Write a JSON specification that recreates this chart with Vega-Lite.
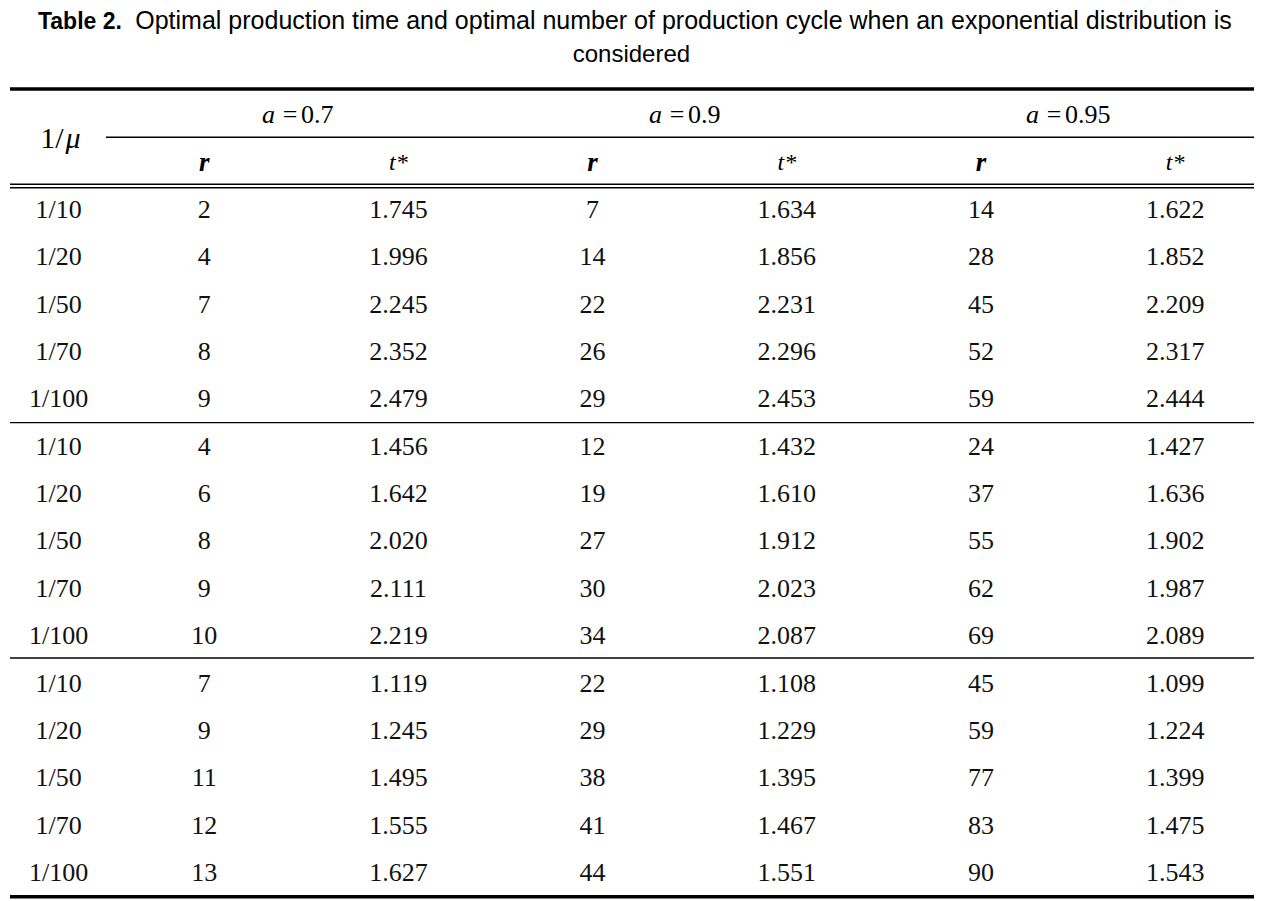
{
  "$schema": "https://vega.github.io/schema/vega-lite/v6.json",
  "width": 1274,
  "height": 901,
  "autosize": {"type": "fit", "contains": "padding"},
  "padding": 0,
  "background": "white",
  "config": {"view": {"stroke": null}},
  "datasets": {
    "caption": [
      {"row": -2.821, "col": 0.144, "text": "Table 2.", "part": "label"},
      {"row": -2.821, "col": 3.468, "text": "Optimal production time and optimal number of production cycle when an exponential distribution is", "part": "body"},
      {"row": -2.124, "col": 3.2, "text": "considered", "part": "body2"}
    ],
    "lines": [
      {"at": -1.555, "from": 0, "to": 6.406, "weight": "heavy"},
      {"at": -0.534, "from": 0.494, "to": 6.406, "weight": "light"},
      {"at": 0.458, "from": 0, "to": 6.406, "weight": "light"},
      {"at": 0.53, "from": 0, "to": 6.406, "weight": "light"},
      {"at": 5.49, "from": 0, "to": 6.406, "weight": "light"},
      {"at": 10.46, "from": 0, "to": 6.406, "weight": "light"},
      {"at": 15.5, "from": 0, "to": 6.406, "weight": "heavy"}
    ],
    "mu": [{"row": -0.49, "col": 0.25}],
    "groups": [
      {"row": -1, "col": 1.442, "val": "0.7"},
      {"row": -1, "col": 3.435, "val": "0.9"},
      {"row": -1, "col": 5.376, "val": "0.95"}
    ],
    "sub": [
      {"row": 0, "col": 1, "lab": "r"},
      {"row": 0, "col": 2, "lab": "t*"},
      {"row": 0, "col": 3, "lab": "r"},
      {"row": 0, "col": 4, "lab": "t*"},
      {"row": 0, "col": 5, "lab": "r"},
      {"row": 0, "col": 6, "lab": "t*"}
    ],
    "cells": [
      {"row": 1, "col": 0.25, "text": "1/10"}, {"row": 1, "col": 1, "text": "2"}, {"row": 1, "col": 2, "text": "1.745"}, {"row": 1, "col": 3, "text": "7"}, {"row": 1, "col": 4, "text": "1.634"}, {"row": 1, "col": 5, "text": "14"}, {"row": 1, "col": 6, "text": "1.622"},
      {"row": 2, "col": 0.25, "text": "1/20"}, {"row": 2, "col": 1, "text": "4"}, {"row": 2, "col": 2, "text": "1.996"}, {"row": 2, "col": 3, "text": "14"}, {"row": 2, "col": 4, "text": "1.856"}, {"row": 2, "col": 5, "text": "28"}, {"row": 2, "col": 6, "text": "1.852"},
      {"row": 3, "col": 0.25, "text": "1/50"}, {"row": 3, "col": 1, "text": "7"}, {"row": 3, "col": 2, "text": "2.245"}, {"row": 3, "col": 3, "text": "22"}, {"row": 3, "col": 4, "text": "2.231"}, {"row": 3, "col": 5, "text": "45"}, {"row": 3, "col": 6, "text": "2.209"},
      {"row": 4, "col": 0.25, "text": "1/70"}, {"row": 4, "col": 1, "text": "8"}, {"row": 4, "col": 2, "text": "2.352"}, {"row": 4, "col": 3, "text": "26"}, {"row": 4, "col": 4, "text": "2.296"}, {"row": 4, "col": 5, "text": "52"}, {"row": 4, "col": 6, "text": "2.317"},
      {"row": 5, "col": 0.25, "text": "1/100"}, {"row": 5, "col": 1, "text": "9"}, {"row": 5, "col": 2, "text": "2.479"}, {"row": 5, "col": 3, "text": "29"}, {"row": 5, "col": 4, "text": "2.453"}, {"row": 5, "col": 5, "text": "59"}, {"row": 5, "col": 6, "text": "2.444"},
      {"row": 6, "col": 0.25, "text": "1/10"}, {"row": 6, "col": 1, "text": "4"}, {"row": 6, "col": 2, "text": "1.456"}, {"row": 6, "col": 3, "text": "12"}, {"row": 6, "col": 4, "text": "1.432"}, {"row": 6, "col": 5, "text": "24"}, {"row": 6, "col": 6, "text": "1.427"},
      {"row": 7, "col": 0.25, "text": "1/20"}, {"row": 7, "col": 1, "text": "6"}, {"row": 7, "col": 2, "text": "1.642"}, {"row": 7, "col": 3, "text": "19"}, {"row": 7, "col": 4, "text": "1.610"}, {"row": 7, "col": 5, "text": "37"}, {"row": 7, "col": 6, "text": "1.636"},
      {"row": 8, "col": 0.25, "text": "1/50"}, {"row": 8, "col": 1, "text": "8"}, {"row": 8, "col": 2, "text": "2.020"}, {"row": 8, "col": 3, "text": "27"}, {"row": 8, "col": 4, "text": "1.912"}, {"row": 8, "col": 5, "text": "55"}, {"row": 8, "col": 6, "text": "1.902"},
      {"row": 9, "col": 0.25, "text": "1/70"}, {"row": 9, "col": 1, "text": "9"}, {"row": 9, "col": 2, "text": "2.111"}, {"row": 9, "col": 3, "text": "30"}, {"row": 9, "col": 4, "text": "2.023"}, {"row": 9, "col": 5, "text": "62"}, {"row": 9, "col": 6, "text": "1.987"},
      {"row": 10, "col": 0.25, "text": "1/100"}, {"row": 10, "col": 1, "text": "10"}, {"row": 10, "col": 2, "text": "2.219"}, {"row": 10, "col": 3, "text": "34"}, {"row": 10, "col": 4, "text": "2.087"}, {"row": 10, "col": 5, "text": "69"}, {"row": 10, "col": 6, "text": "2.089"},
      {"row": 11, "col": 0.25, "text": "1/10"}, {"row": 11, "col": 1, "text": "7"}, {"row": 11, "col": 2, "text": "1.119"}, {"row": 11, "col": 3, "text": "22"}, {"row": 11, "col": 4, "text": "1.108"}, {"row": 11, "col": 5, "text": "45"}, {"row": 11, "col": 6, "text": "1.099"},
      {"row": 12, "col": 0.25, "text": "1/20"}, {"row": 12, "col": 1, "text": "9"}, {"row": 12, "col": 2, "text": "1.245"}, {"row": 12, "col": 3, "text": "29"}, {"row": 12, "col": 4, "text": "1.229"}, {"row": 12, "col": 5, "text": "59"}, {"row": 12, "col": 6, "text": "1.224"},
      {"row": 13, "col": 0.25, "text": "1/50"}, {"row": 13, "col": 1, "text": "11"}, {"row": 13, "col": 2, "text": "1.495"}, {"row": 13, "col": 3, "text": "38"}, {"row": 13, "col": 4, "text": "1.395"}, {"row": 13, "col": 5, "text": "77"}, {"row": 13, "col": 6, "text": "1.399"},
      {"row": 14, "col": 0.25, "text": "1/70"}, {"row": 14, "col": 1, "text": "12"}, {"row": 14, "col": 2, "text": "1.555"}, {"row": 14, "col": 3, "text": "41"}, {"row": 14, "col": 4, "text": "1.467"}, {"row": 14, "col": 5, "text": "83"}, {"row": 14, "col": 6, "text": "1.475"},
      {"row": 15, "col": 0.25, "text": "1/100"}, {"row": 15, "col": 1, "text": "13"}, {"row": 15, "col": 2, "text": "1.627"}, {"row": 15, "col": 3, "text": "44"}, {"row": 15, "col": 4, "text": "1.551"}, {"row": 15, "col": 5, "text": "90"}, {"row": 15, "col": 6, "text": "1.543"}
    ]
  },
  "layer": [
    {
      "data": {"name": "lines"},
      "mark": {"type": "rule", "color": "#000000"},
      "encoding": {
        "x": {"field": "from", "type": "quantitative", "scale": {"domain": [-0.0515, 6.5088], "nice": false, "zero": false}, "axis": null},
        "x2": {"field": "to"},
        "y": {"field": "at", "type": "quantitative", "scale": {"domain": [-3.433, 15.591], "nice": false, "zero": false, "reverse": true}, "axis": null},
        "strokeWidth": {"field": "weight", "type": "nominal", "scale": {"domain": ["heavy", "light"], "range": [3.5, 1.4]}, "legend": null}
      }
    },
    {
      "data": {"name": "caption"},
      "transform": [{"filter": "datum.part === 'label'"}],
      "mark": {"type": "text", "font": "Liberation Sans", "fontSize": 23, "fontWeight": "bold", "align": "left", "baseline": "alphabetic", "color": "#000000"},
      "encoding": {
        "x": {"field": "col", "type": "quantitative", "scale": {"domain": [-0.0515, 6.5088], "nice": false, "zero": false}, "axis": null},
        "y": {"field": "row", "type": "quantitative", "scale": {"domain": [-3.433, 15.591], "nice": false, "zero": false, "reverse": true}, "axis": null},
        "text": {"field": "text"}
      }
    },
    {
      "data": {"name": "caption"},
      "transform": [{"filter": "datum.part === 'body'"}],
      "mark": {"type": "text", "font": "Liberation Sans", "fontSize": 25, "align": "center", "baseline": "alphabetic", "color": "#000000"},
      "encoding": {
        "x": {"field": "col", "type": "quantitative", "scale": {"domain": [-0.0515, 6.5088], "nice": false, "zero": false}, "axis": null},
        "y": {"field": "row", "type": "quantitative", "scale": {"domain": [-3.433, 15.591], "nice": false, "zero": false, "reverse": true}, "axis": null},
        "text": {"field": "text"}
      }
    },
    {
      "data": {"name": "caption"},
      "transform": [{"filter": "datum.part === 'body2'"}],
      "mark": {"type": "text", "font": "Liberation Sans", "fontSize": 24, "align": "center", "baseline": "alphabetic", "color": "#000000"},
      "encoding": {
        "x": {"field": "col", "type": "quantitative", "scale": {"domain": [-0.0515, 6.5088], "nice": false, "zero": false}, "axis": null},
        "y": {"field": "row", "type": "quantitative", "scale": {"domain": [-3.433, 15.591], "nice": false, "zero": false, "reverse": true}, "axis": null},
        "text": {"field": "text"}
      }
    },
    {
      "data": {"name": "mu"},
      "mark": {"type": "text", "font": "Liberation Serif", "fontSize": 30, "align": "right", "dx": 5, "color": "#000000"},
      "encoding": {
        "x": {"field": "col", "type": "quantitative", "scale": {"domain": [-0.0515, 6.5088], "nice": false, "zero": false}, "axis": null},
        "y": {"field": "row", "type": "quantitative", "scale": {"domain": [-3.433, 15.591], "nice": false, "zero": false, "reverse": true}, "axis": null},
        "text": {"value": "1/"}
      }
    },
    {
      "data": {"name": "mu"},
      "mark": {"type": "text", "font": "Liberation Serif", "fontSize": 30, "fontStyle": "italic", "align": "left", "dx": 7, "color": "#000000"},
      "encoding": {
        "x": {"field": "col", "type": "quantitative", "scale": {"domain": [-0.0515, 6.5088], "nice": false, "zero": false}, "axis": null},
        "y": {"field": "row", "type": "quantitative", "scale": {"domain": [-3.433, 15.591], "nice": false, "zero": false, "reverse": true}, "axis": null},
        "text": {"value": "μ"}
      }
    },
    {
      "data": {"name": "groups"},
      "mark": {"type": "text", "font": "Liberation Serif", "fontSize": 26, "fontStyle": "italic", "align": "right", "dx": -15, "color": "#000000"},
      "encoding": {
        "x": {"field": "col", "type": "quantitative", "scale": {"domain": [-0.0515, 6.5088], "nice": false, "zero": false}, "axis": null},
        "y": {"field": "row", "type": "quantitative", "scale": {"domain": [-3.433, 15.591], "nice": false, "zero": false, "reverse": true}, "axis": null},
        "text": {"value": "a"}
      }
    },
    {
      "data": {"name": "groups"},
      "mark": {"type": "text", "font": "Liberation Serif", "fontSize": 26, "align": "center", "color": "#000000"},
      "encoding": {
        "x": {"field": "col", "type": "quantitative", "scale": {"domain": [-0.0515, 6.5088], "nice": false, "zero": false}, "axis": null},
        "y": {"field": "row", "type": "quantitative", "scale": {"domain": [-3.433, 15.591], "nice": false, "zero": false, "reverse": true}, "axis": null},
        "text": {"value": "="}
      }
    },
    {
      "data": {"name": "groups"},
      "mark": {"type": "text", "font": "Liberation Serif", "fontSize": 26, "align": "left", "dx": 11, "color": "#000000"},
      "encoding": {
        "x": {"field": "col", "type": "quantitative", "scale": {"domain": [-0.0515, 6.5088], "nice": false, "zero": false}, "axis": null},
        "y": {"field": "row", "type": "quantitative", "scale": {"domain": [-3.433, 15.591], "nice": false, "zero": false, "reverse": true}, "axis": null},
        "text": {"field": "val"}
      }
    },
    {
      "data": {"name": "sub"},
      "transform": [{"filter": "datum.lab === 'r'"}],
      "mark": {"type": "text", "font": "Liberation Serif", "fontSize": 27, "fontStyle": "italic", "fontWeight": "bold", "align": "center", "color": "#000000"},
      "encoding": {
        "x": {"field": "col", "type": "quantitative", "scale": {"domain": [-0.0515, 6.5088], "nice": false, "zero": false}, "axis": null},
        "y": {"field": "row", "type": "quantitative", "scale": {"domain": [-3.433, 15.591], "nice": false, "zero": false, "reverse": true}, "axis": null},
        "text": {"field": "lab"}
      }
    },
    {
      "data": {"name": "sub"},
      "transform": [{"filter": "datum.lab === 't*'"}],
      "mark": {"type": "text", "font": "Liberation Serif", "fontSize": 24, "fontStyle": "italic", "align": "center", "color": "#000000"},
      "encoding": {
        "x": {"field": "col", "type": "quantitative", "scale": {"domain": [-0.0515, 6.5088], "nice": false, "zero": false}, "axis": null},
        "y": {"field": "row", "type": "quantitative", "scale": {"domain": [-3.433, 15.591], "nice": false, "zero": false, "reverse": true}, "axis": null},
        "text": {"field": "lab"}
      }
    },
    {
      "data": {"name": "cells"},
      "mark": {"type": "text", "font": "Liberation Serif", "fontSize": 26, "align": "center", "color": "#111111"},
      "encoding": {
        "x": {"field": "col", "type": "quantitative", "scale": {"domain": [-0.0515, 6.5088], "nice": false, "zero": false}, "axis": null},
        "y": {"field": "row", "type": "quantitative", "scale": {"domain": [-3.433, 15.591], "nice": false, "zero": false, "reverse": true}, "axis": null},
        "text": {"field": "text"}
      }
    }
  ]
}
